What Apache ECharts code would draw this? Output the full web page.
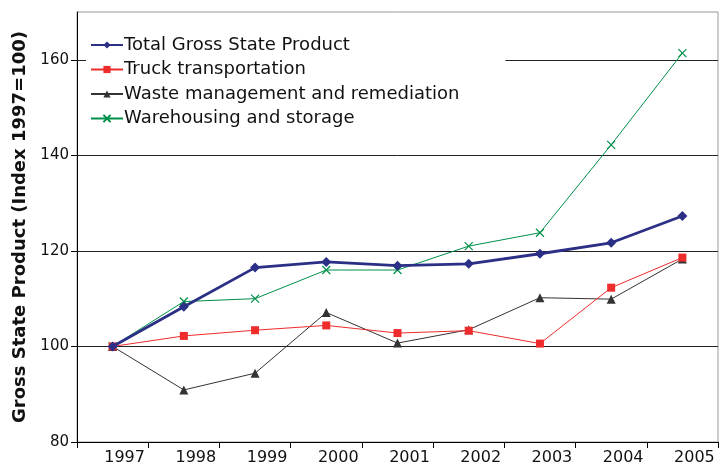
<!DOCTYPE html>
<html>
<head>
<meta charset="utf-8">
<script src="https://cdn.jsdelivr.net/npm/echarts@6/dist/echarts.min.js"></script>
<style>
  html, body { margin: 0; padding: 0; background: #fff; }
  #main { width: 727px; height: 466px; }
</style>
</head>
<body>
<div id="main"></div>
<script>
var years = ['1997', '1998', '1999', '2000', '2001', '2002', '2003', '2004', '2005'];
var totalGSP = [100, 108.3, 116.5, 117.7, 116.9, 117.3, 119.4, 121.7, 127.3];
var truck = [100, 102.2, 103.4, 104.4, 102.8, 103.3, 100.6, 112.3, 118.6];
var waste = [100, 90.9, 94.4, 107.1, 100.7, 103.5, 110.2, 109.9, 118.3];
var warehousing = [100, 109.4, 110.0, 116.0, 116.0, 121.0, 123.8, 142.2, 161.4];
var yTicks = [80, 100, 120, 140, 160];

var FONT = 'DejaVu Sans';
var myChart = echarts.init(document.getElementById('main'));

var crossIcon = 'path://M0,0L10,10M10,0L0,10';

option = {
  animation: false,
  textStyle: { fontFamily: FONT },
  grid: {
    left: 77, right: 9, top: 12, bottom: 22,
    show: true,
    borderColor: '#999',
    borderWidth: 1,
    backgroundColor: '#fff'
  },
  legend: {
    orient: 'vertical',
    left: 86,
    top: 34,
    itemGap: 6.5,
    itemWidth: 32,
    itemHeight: 9,
    padding: [2, 46, 2, 4],
    backgroundColor: '#fff',
    textStyle: { fontFamily: FONT, fontSize: 18, color: '#111', padding: [0, 0, 0, -4] },
    data: ['Total Gross State Product', 'Truck transportation', 'Waste management and remediation', 'Warehousing and storage']
  },
  xAxis: {
    type: 'category',
    data: years,
    boundaryGap: true,
    axisLine: { lineStyle: { color: '#000', width: 1 } },
    axisTick: { show: true, length: 6, lineStyle: { color: '#000' } },
    axisLabel: { fontFamily: FONT, fontSize: 16, color: '#111', margin: 8, padding: [0, 0, 0, 24] },
    splitLine: { show: false }
  },
  yAxis: {
    type: 'value',
    min: 80,
    max: 170,
    interval: 20,
    name: 'Gross State Product (Index 1997=100)',
    nameLocation: 'middle',
    nameGap: 44,
    nameTextStyle: { fontFamily: FONT, fontSize: 18, fontWeight: 'bold', color: '#111' },
    axisLine: { show: true, lineStyle: { color: '#000', width: 1 } },
    axisTick: { show: true, length: 6, customValues: yTicks, lineStyle: { color: '#000' } },
    axisLabel: {
      fontFamily: FONT, fontSize: 15, color: '#111', margin: 8,
      customValues: yTicks,
      formatter: function (v) { return yTicks.indexOf(v) >= 0 ? String(v) : ''; }
    },
    splitLine: { show: true, lineStyle: { color: ['#222', '#222', '#222', '#222', '#222', '#999'], width: 1 } }
  },
  series: [
    {
      name: 'Total Gross State Product',
      type: 'line',
      data: totalGSP,
      symbol: 'diamond',
      symbolSize: 10,
      itemStyle: { color: '#2b2f86' },
      lineStyle: { color: '#2b2f86', width: 2.8 },
      z: 5
    },
    {
      name: 'Truck transportation',
      type: 'line',
      data: truck,
      symbol: 'rect',
      symbolSize: 8,
      itemStyle: { color: '#ee2c2c' },
      lineStyle: { color: '#ee2c2c', width: 1 },
      z: 4
    },
    {
      name: 'Waste management and remediation',
      type: 'line',
      data: waste,
      symbol: 'triangle',
      symbolSize: 9,
      itemStyle: { color: '#333333' },
      lineStyle: { color: '#333333', width: 1 },
      z: 3
    },
    {
      name: 'Warehousing and storage',
      type: 'line',
      data: warehousing,
      symbol: crossIcon,
      symbolSize: 8,
      itemStyle: { color: '#00904a', borderColor: '#00904a', borderWidth: 1.2 },
      lineStyle: { color: '#00904a', width: 1 },
      z: 2
    }
  ]
};

myChart.setOption(option);
window.onresize = function () {
  myChart.resize();
};
</script>
</body>
</html>
